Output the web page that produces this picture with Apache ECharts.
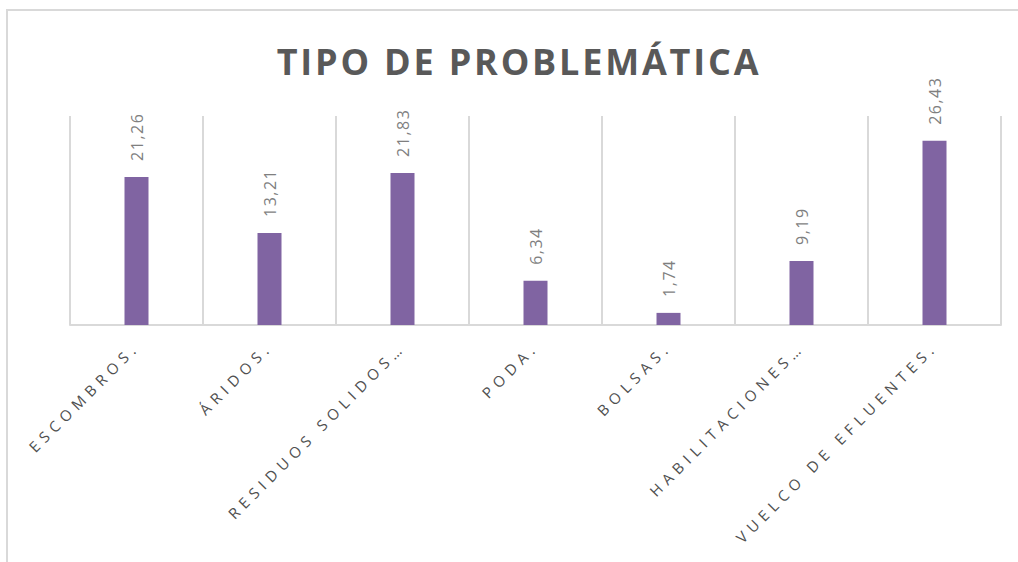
<!DOCTYPE html>
<html lang="es">

<head>
    <meta charset="UTF-8">
    <title>Tipo de problemática</title>
    <style type="text/css">
        html, body {
            margin: 0;
            padding: 0;
            overflow: hidden;
            background: #ffffff;
        }

        #frame {
            position: absolute;
            left: 6px;
            top: 9px;
            width: 1040px;
            height: 600px;
            border: 2px solid #d9d9d9;
        }

        #main {
            position: absolute;
            left: 0;
            top: 0;
            width: 1018px;
            height: 562px;
        }

        /* espaciado de caracteres como en el original */
        #main text[style*="36px"] { letter-spacing: 2.8px; }
        #main text[style*="15px"] { letter-spacing: 5.5px; }
        #main text[style*="16px"] { letter-spacing: 1.5px; }
    </style>
</head>

<body>
    <div id="frame"></div>
    <div id="main"></div>
    <script src="https://cdn.jsdelivr.net/npm/echarts@6/dist/echarts.min.js"></script>
    <script type="text/javascript">
        // datos del gráfico
        var categorias = ['ESCOMBROS.', 'ÁRIDOS.', 'RESIDUOS SOLIDOS…', 'PODA.', 'BOLSAS.', 'HABILITACIONES…', 'VUELCO DE EFLUENTES.'];
        var valores = [21.26, 13.21, 21.83, 6.34, 1.74, 9.19, 26.43];
        var titulo = 'TIPO DE PROBLEMÁTICA';

        var myChart = echarts.init(document.getElementById('main'), null, { renderer: 'svg' });

        var option = {
            animation: false,
            title: {
                text: titulo,
                left: 514,
                top: 38,
                textAlign: 'center',
                textStyle: {
                    fontFamily: 'Open Sans',
                    fontWeight: 'bold',
                    fontSize: 36,
                    color: '#595959'
                }
            },
            grid: {
                left: 70,
                right: 17,
                top: 116,
                bottom: 237
            },
            xAxis: {
                type: 'category',
                data: categorias,
                axisTick: { show: false },
                axisLine: {
                    lineStyle: { color: '#d9d9d9', width: 2 }
                },
                splitLine: {
                    show: true,
                    showMinLine: true,
                    showMaxLine: true,
                    lineStyle: { color: '#d9d9d9', width: 2 }
                },
                axisLabel: {
                    interval: 0,
                    rotate: 45,
                    margin: 19,
                    fontFamily: 'Open Sans',
                    fontSize: 15,
                    color: '#505050'
                }
            },
            yAxis: {
                type: 'value',
                min: 0,
                max: 30,
                show: false,
                splitLine: { show: false }
            },
            series: [
                {
                    type: 'bar',
                    data: valores,
                    barWidth: 24,
                    itemStyle: { color: '#8064a2' },
                    label: {
                        show: true,
                        position: 'top',
                        distance: 16,
                        rotate: 90,
                        align: 'left',
                        verticalAlign: 'middle',
                        fontFamily: 'Open Sans',
                        fontSize: 16,
                        color: '#7f7f7f',
                        formatter: function (p) {
                            return p.value.toFixed(2).replace('.', ',');
                        }
                    }
                }
            ]
        };

        myChart.setOption(option);
    </script>
</body>

</html>
